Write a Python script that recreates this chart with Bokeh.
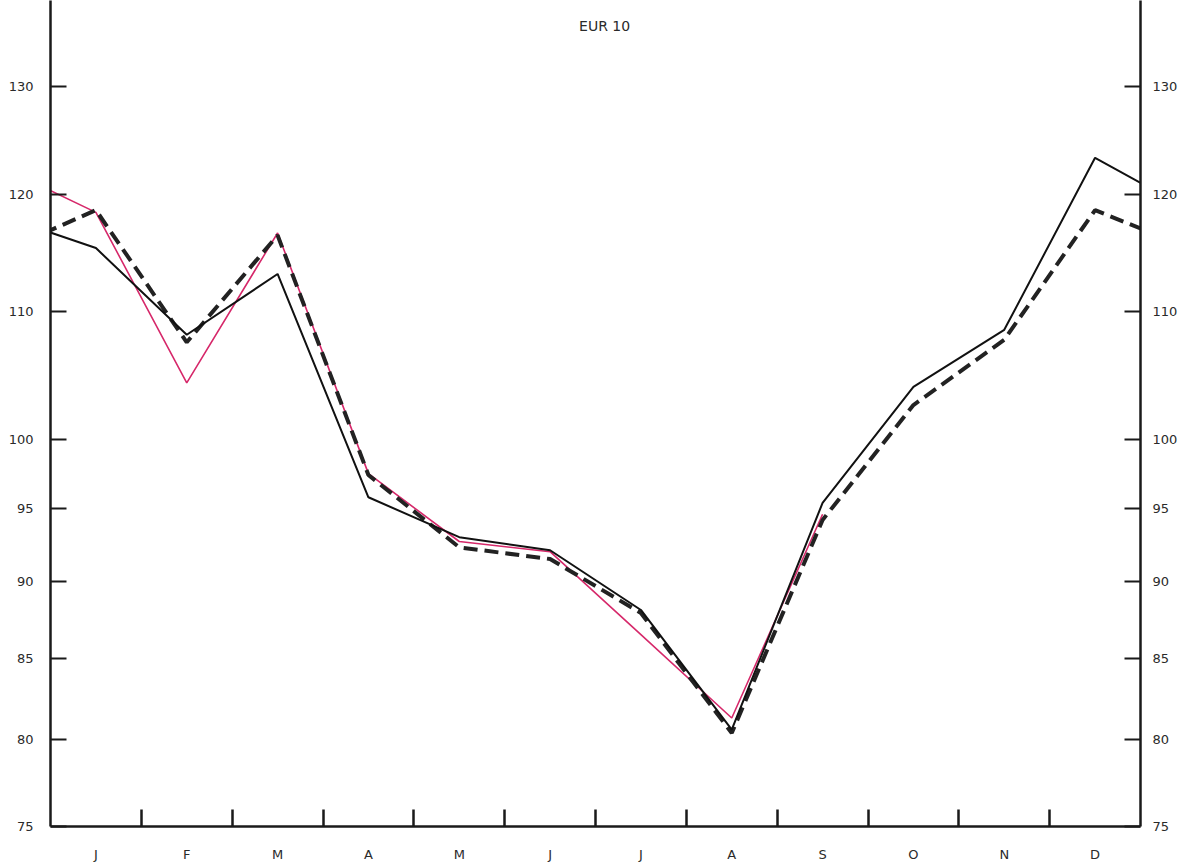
from bokeh.plotting import figure
from bokeh.models import Range1d, LogAxis, FixedTicker, Label
from bokeh.embed import file_html
from bokeh.resources import INLINE

# ---- data ----
months = ["J", "F", "M", "A", "M", "J", "J", "A", "S", "O", "N", "D"]
month_pos = [0.5, 1.5, 2.5, 3.5, 4.5, 5.5, 6.5, 7.5, 8.5, 9.5, 10.5, 11.5]
month_bounds = [1, 2, 3, 4, 5, 6, 7, 8, 9, 10, 11]
prev_pos = -0.5   # previous December
next_pos = 12.5   # following January

solid_prev = 118.0
solid = [115.3, 108.1, 113.1, 95.8, 93.0, 92.1, 88.1, 80.6, 95.4, 104.0, 108.5, 123.3]
solid_next = 118.8

dashed_prev = 115.1
dashed = [118.6, 107.5, 116.4, 97.4, 92.3, 91.5, 87.9, 80.4, 94.2, 102.6, 107.7, 118.6]
dashed_next = 115.4

pink_prev = 122.3
pink = [118.4, 104.3, 116.6, 97.5, 92.7, 92.0, 86.5, 81.3, 94.6]

y_ticks = [75, 80, 85, 90, 95, 100, 110, 120, 130]
y_tick_labels = ["75", "80", "85", "90", "95", "100", "110", "120", "130"]
title_text = "EUR 10"

FONT = "DejaVu Sans"
AX = "#1a1a1a"
TXT = "#2a2a2a"

p = figure(width=1192, height=864, y_axis_type="log",
           x_range=Range1d(0, 12), y_range=Range1d(75, 138.6),
           output_backend="svg", toolbar_location=None,
           min_border=0, min_border_left=50, min_border_right=52,
           min_border_top=0, min_border_bottom=37)
p.outline_line_color = None
p.xgrid.visible = False
p.ygrid.visible = False
p.background_fill_color = "white"
p.border_fill_color = "white"

# lines
p.line([prev_pos] + month_pos[:len(pink)], [pink_prev] + pink,
       line_color="#d6286a", line_width=1.6)
p.line([prev_pos] + month_pos + [next_pos], [dashed_prev] + dashed + [dashed_next],
       line_color="#222222", line_width=4, line_dash="14 7")
p.line([prev_pos] + month_pos + [next_pos], [solid_prev] + solid + [solid_next],
       line_color="#111111", line_width=2)

# bottom axis
xa = p.xaxis[0]
xa.ticker = FixedTicker(ticks=month_pos, minor_ticks=month_bounds)
xa.major_label_overrides = {pos: m for pos, m in zip(month_pos, months)}
xa.major_tick_in = 0
xa.major_tick_out = 0
xa.minor_tick_in = 17
xa.minor_tick_out = 0
xa.minor_tick_line_width = 2.5
xa.minor_tick_line_color = AX
xa.axis_line_width = 2.5
xa.axis_line_color = AX
xa.major_label_standoff = 20
xa.major_label_text_font = FONT
xa.major_label_text_font_size = "13px"
xa.major_label_text_color = TXT

overrides = {t: l for t, l in zip(y_ticks, y_tick_labels)}

def style_y(ax, standoff):
    ax.ticker = FixedTicker(ticks=y_ticks, minor_ticks=[])
    ax.major_label_overrides = overrides
    ax.major_tick_in = 16
    ax.major_tick_out = 0
    ax.minor_tick_in = 0
    ax.minor_tick_out = 0
    ax.major_tick_line_width = 2
    ax.major_tick_line_color = AX
    ax.axis_line_width = 2.5
    ax.axis_line_color = AX
    ax.major_label_standoff = standoff
    ax.major_label_text_font = FONT
    ax.major_label_text_font_size = "13px"
    ax.major_label_text_color = TXT

style_y(p.yaxis[0], 17)
ra = LogAxis()
style_y(ra, 12)
p.add_layout(ra, "right")

p.add_layout(Label(x=6.1, y=136.0, text=title_text, text_align="center",
                   text_baseline="middle", text_font=FONT,
                   text_font_size="14px", text_color=TXT))

open("out.html", "w").write(file_html(p, INLINE))
